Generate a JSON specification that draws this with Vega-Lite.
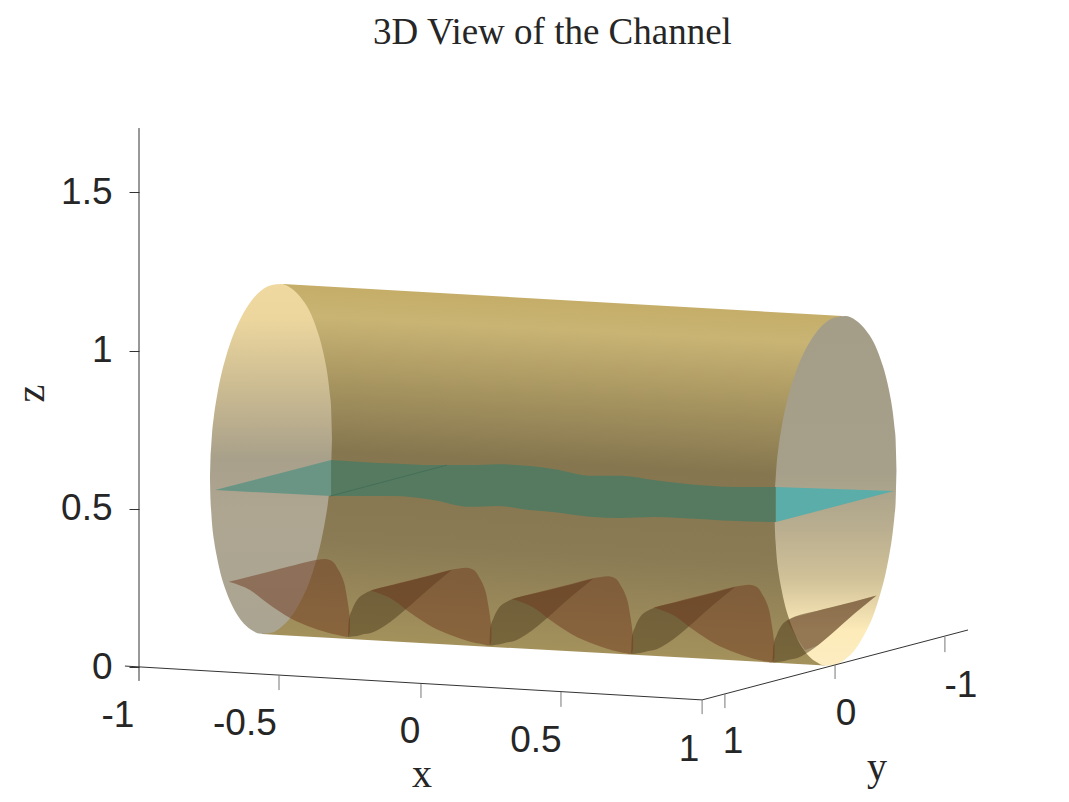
{
"$schema":"https://vega.github.io/schema/vega-lite/v6.json",
"width":1069,"height":802,
"autosize":"none",
"padding":0,
"background":"white",
"config":{"view":{"stroke":null}},
"title":{"text":"3D View of the Channel","font":"Liberation Serif","fontSize":37,"fontWeight":"normal","color":"#262626","anchor":"middle","frame":"group","offset":0,"dx":18,"dy":81,"baseline":"alphabetic"},
"datasets":{
"body":[{"u":-0.563,"top":0.104,"low":0.104},{"u":-0.489,"top":1.21,"low":0.1},{"u":1.435,"top":1.112,"low":0.005},{"u":1.496,"top":1.109,"low":1.109}],
"leftDisc":[{"u":-0.748,"top":0.594,"low":0.594},{"u":-0.746,"top":0.665,"low":0.524},{"u":-0.744,"top":0.694,"low":0.496},{"u":-0.741,"top":0.735,"low":0.456},{"u":-0.734,"top":0.793,"low":0.402},{"u":-0.723,"top":0.857,"low":0.346},{"u":-0.709,"top":0.92,"low":0.29},{"u":-0.691,"top":0.981,"low":0.24},{"u":-0.666,"top":1.048,"low":0.188},{"u":-0.638,"top":1.104,"low":0.148},{"u":-0.602,"top":1.156,"low":0.118},{"u":-0.567,"top":1.189,"low":0.105},{"u":-0.531,"top":1.206,"low":0.108},{"u":-0.496,"top":1.21,"low":0.126},{"u":-0.46,"top":1.197,"low":0.159},{"u":-0.425,"top":1.167,"low":0.21},{"u":-0.396,"top":1.127,"low":0.267},{"u":-0.372,"top":1.075,"low":0.333},{"u":-0.354,"top":1.024,"low":0.395},{"u":-0.34,"top":0.969,"low":0.458},{"u":-0.329,"top":0.912,"low":0.521},{"u":-0.322,"top":0.858,"low":0.579},{"u":-0.318,"top":0.819,"low":0.621},{"u":-0.317,"top":0.79,"low":0.65},{"u":-0.315,"top":0.721,"low":0.721}],
"rightDisc":[{"u":1.256,"top":0.493,"low":0.493},{"u":1.258,"top":0.564,"low":0.423},{"u":1.26,"top":0.593,"low":0.395},{"u":1.263,"top":0.634,"low":0.355},{"u":1.27,"top":0.692,"low":0.301},{"u":1.281,"top":0.756,"low":0.245},{"u":1.295,"top":0.819,"low":0.189},{"u":1.313,"top":0.88,"low":0.139},{"u":1.338,"top":0.947,"low":0.087},{"u":1.366,"top":1.003,"low":0.047},{"u":1.402,"top":1.055,"low":0.017},{"u":1.437,"top":1.088,"low":0.004},{"u":1.473,"top":1.105,"low":0.007},{"u":1.508,"top":1.109,"low":0.025},{"u":1.544,"top":1.096,"low":0.058},{"u":1.579,"top":1.066,"low":0.109},{"u":1.608,"top":1.026,"low":0.166},{"u":1.632,"top":0.974,"low":0.232},{"u":1.65,"top":0.923,"low":0.294},{"u":1.664,"top":0.868,"low":0.357},{"u":1.675,"top":0.811,"low":0.42},{"u":1.682,"top":0.757,"low":0.478},{"u":1.686,"top":0.718,"low":0.52},{"u":1.687,"top":0.689,"low":0.549},{"u":1.689,"top":0.62,"low":0.62}],
"sheet":[
{"part":"left","u":-0.73,"top":0.559,"low":0.559},{"part":"left","u":-0.318,"top":0.654,"low":0.54},
{"part":"mid","u":-0.318,"top":0.654,"low":0.54},{"part":"mid","u":-0.155,"top":0.645,"low":0.54},{"part":"mid","u":-0.098,"top":0.643,"low":0.54},{"part":"mid","u":0.044,"top":0.638,"low":0.528},{"part":"mid","u":0.175,"top":0.638,"low":0.506},{"part":"mid","u":0.271,"top":0.641,"low":0.509},{"part":"mid","u":0.388,"top":0.635,"low":0.496},{"part":"mid","u":0.47,"top":0.626,"low":0.49},{"part":"mid","u":0.612,"top":0.604,"low":0.474},{"part":"mid","u":0.708,"top":0.604,"low":0.471},{"part":"mid","u":0.825,"top":0.591,"low":0.474},{"part":"mid","u":0.921,"top":0.581,"low":0.471},{"part":"mid","u":1.123,"top":0.569,"low":0.461},{"part":"mid","u":1.261,"top":0.569,"low":0.458},
{"part":"right","u":1.261,"top":0.569,"low":0.458},{"part":"right","u":1.68,"top":0.556,"low":0.556}],
"lobes":[
{"k":0,"u":-0.258,"top":0.095,"low":0.095},{"k":0,"u":-0.255,"top":0.149,"low":0.095},{"k":0,"u":-0.244,"top":0.18,"low":0.096},{"k":0,"u":-0.226,"top":0.212,"low":0.098},{"k":0,"u":-0.201,"top":0.231,"low":0.104},{"k":0,"u":-0.18,"top":0.24,"low":0.107},{"k":0,"u":-0.098,"top":0.259,"low":0.149},{"k":0,"u":-0.052,"top":0.269,"low":0.183},{"k":0,"u":0.033,"top":0.288,"low":0.25},{"k":0,"u":0.111,"top":0.307,"low":0.307},
{"k":1,"u":0.244,"top":0.068,"low":0.068},{"k":1,"u":0.247,"top":0.122,"low":0.068},{"k":1,"u":0.258,"top":0.153,"low":0.069},{"k":1,"u":0.276,"top":0.185,"low":0.071},{"k":1,"u":0.301,"top":0.204,"low":0.077},{"k":1,"u":0.322,"top":0.213,"low":0.08},{"k":1,"u":0.404,"top":0.232,"low":0.122},{"k":1,"u":0.45,"top":0.242,"low":0.156},{"k":1,"u":0.535,"top":0.261,"low":0.223},{"k":1,"u":0.613,"top":0.28,"low":0.28},
{"k":2,"u":0.747,"top":0.041,"low":0.041},{"k":2,"u":0.75,"top":0.095,"low":0.041},{"k":2,"u":0.761,"top":0.126,"low":0.042},{"k":2,"u":0.779,"top":0.158,"low":0.044},{"k":2,"u":0.804,"top":0.177,"low":0.05},{"k":2,"u":0.825,"top":0.186,"low":0.053},{"k":2,"u":0.907,"top":0.205,"low":0.095},{"k":2,"u":0.953,"top":0.215,"low":0.129},{"k":2,"u":1.038,"top":0.234,"low":0.196},{"k":2,"u":1.116,"top":0.253,"low":0.253},
{"k":3,"u":1.249,"top":0.014,"low":0.014},{"k":3,"u":1.252,"top":0.068,"low":0.014},{"k":3,"u":1.263,"top":0.099,"low":0.015},{"k":3,"u":1.281,"top":0.131,"low":0.017},{"k":3,"u":1.306,"top":0.15,"low":0.023},{"k":3,"u":1.327,"top":0.159,"low":0.026},{"k":3,"u":1.409,"top":0.178,"low":0.068},{"k":3,"u":1.455,"top":0.188,"low":0.102},{"k":3,"u":1.54,"top":0.207,"low":0.169},{"k":3,"u":1.618,"top":0.226,"low":0.226}],
"tint":[{"u":1.3,"top":0.145,"low":0.145},{"u":1.329,"top":0.159,"low":0.101},{"u":1.364,"top":0.166,"low":0.054},{"u":1.409,"top":0.178,"low":0.068},{"u":1.455,"top":0.188,"low":0.102},{"u":1.54,"top":0.207,"low":0.169},{"u":1.618,"top":0.226,"low":0.226}],
"hills":[
{"k":0,"u":-0.681,"top":0.269,"low":0.269},{"k":0,"u":-0.606,"top":0.286,"low":0.243},{"k":0,"u":-0.535,"top":0.302,"low":0.196},{"k":0,"u":-0.464,"top":0.318,"low":0.155},{"k":0,"u":-0.389,"top":0.335,"low":0.126},{"k":0,"u":-0.34,"top":0.341,"low":0.111},{"k":0,"u":-0.311,"top":0.332,"low":0.104},{"k":0,"u":-0.294,"top":0.31,"low":0.101},{"k":0,"u":-0.279,"top":0.284,"low":0.098},{"k":0,"u":-0.269,"top":0.256,"low":0.096},{"k":0,"u":-0.262,"top":0.221,"low":0.095},{"k":0,"u":-0.255,"top":0.18,"low":0.1},{"k":0,"u":-0.251,"top":0.149,"low":0.111},
{"k":1,"u":-0.179,"top":0.242,"low":0.242},{"k":1,"u":-0.104,"top":0.259,"low":0.216},{"k":1,"u":-0.033,"top":0.275,"low":0.169},{"k":1,"u":0.038,"top":0.291,"low":0.128},{"k":1,"u":0.113,"top":0.308,"low":0.099},{"k":1,"u":0.162,"top":0.314,"low":0.084},{"k":1,"u":0.191,"top":0.305,"low":0.077},{"k":1,"u":0.208,"top":0.283,"low":0.074},{"k":1,"u":0.223,"top":0.257,"low":0.071},{"k":1,"u":0.233,"top":0.229,"low":0.069},{"k":1,"u":0.24,"top":0.194,"low":0.068},{"k":1,"u":0.247,"top":0.153,"low":0.073},{"k":1,"u":0.251,"top":0.122,"low":0.084},
{"k":2,"u":0.324,"top":0.215,"low":0.215},{"k":2,"u":0.399,"top":0.232,"low":0.189},{"k":2,"u":0.47,"top":0.248,"low":0.142},{"k":2,"u":0.541,"top":0.264,"low":0.101},{"k":2,"u":0.616,"top":0.281,"low":0.072},{"k":2,"u":0.665,"top":0.287,"low":0.057},{"k":2,"u":0.694,"top":0.278,"low":0.05},{"k":2,"u":0.711,"top":0.256,"low":0.047},{"k":2,"u":0.726,"top":0.23,"low":0.044},{"k":2,"u":0.736,"top":0.202,"low":0.042},{"k":2,"u":0.743,"top":0.167,"low":0.041},{"k":2,"u":0.75,"top":0.126,"low":0.046},{"k":2,"u":0.754,"top":0.095,"low":0.057},
{"k":3,"u":0.826,"top":0.188,"low":0.188},{"k":3,"u":0.901,"top":0.205,"low":0.162},{"k":3,"u":0.972,"top":0.221,"low":0.115},{"k":3,"u":1.043,"top":0.237,"low":0.074},{"k":3,"u":1.118,"top":0.254,"low":0.045},{"k":3,"u":1.167,"top":0.26,"low":0.03},{"k":3,"u":1.196,"top":0.251,"low":0.023},{"k":3,"u":1.213,"top":0.229,"low":0.02},{"k":3,"u":1.228,"top":0.203,"low":0.017},{"k":3,"u":1.238,"top":0.175,"low":0.015},{"k":3,"u":1.245,"top":0.14,"low":0.014},{"k":3,"u":1.252,"top":0.099,"low":0.019},{"k":3,"u":1.256,"top":0.068,"low":0.03}],
"seam":[{"u":-0.322,"z":0.54,"u2":0.093,"z2":0.638}],
"axisLines":[
{"u":-1.05,"z":0.003,"u2":0.999,"z2":-0.104},
{"u":0.999,"z":-0.104,"u2":1.943,"z2":0.117},
{"u":-1,"z":1.703,"u2":-1,"z2":-0.044}],
"axisTicks":[
{"u":-0.503,"z":-0.025,"u2":-0.503,"z2":-0.073},
{"u":0.001,"z":-0.054,"u2":0.001,"z2":-0.098},
{"u":0.498,"z":-0.079,"u2":0.498,"z2":-0.126},
{"u":0.999,"z":-0.104,"u2":0.999,"z2":-0.149},
{"u":1.08,"z":-0.085,"u2":1.08,"z2":-0.13},
{"u":1.471,"z":0.006,"u2":1.471,"z2":-0.038},
{"u":1.861,"z":0.095,"u2":1.861,"z2":0.047}],
"tickLabels":[
{"label":"-1","u":-1.075,"z":-0.155},{"label":"-0.5","u":-0.624,"z":-0.18},{"label":"0","u":-0.038,"z":-0.205},{"label":"0.5","u":0.409,"z":-0.234},{"label":"1","u":0.953,"z":-0.262},
{"label":"1","u":1.109,"z":-0.237},{"label":"0","u":1.51,"z":-0.149},{"label":"-1","u":1.918,"z":-0.06}],
"axisNames":[{"label":"x","u":0.005,"z":-0.341},{"label":"y","u":1.62,"z":-0.319}]
},
"encoding":{
"x":{"field":"u","type":"quantitative","scale":{"domain":[-1.49345,2.3015],"nice":false,"zero":false},"axis":null},
"y":{"field":"top","type":"quantitative","scale":{"domain":[-0.4266,2.10772],"nice":false,"zero":false},
"axis":{"title":"z","titleFont":"Liberation Serif","titleFontSize":40,"titleFontWeight":"normal","titleColor":"#262626","titleX":-108,"titleY":393,"titleAngle":-90,"titleAlign":"center","titleBaseline":"middle","values":[0,0.5,1,1.5],"labelExpr":"datum.value","labelFont":"Liberation Sans","labelFontSize":37,"labelColor":"#262626","tickColor":"#333333","tickSize":10,"labelPadding":17,"domain":false,"grid":false,"offset":-139}}
},
"layer":[
{"data":{"name":"body"},"mark":{"type":"area","color":{"gradient":"linear","x1":0.54,"y1":0,"x2":0.46,"y2":1,"stops":[{"offset":0,"color":"#c3aa62"},{"offset":0.12,"color":"#c9b474"},{"offset":0.3,"color":"#a5935f"},{"offset":0.47,"color":"#85764f"},{"offset":0.7,"color":"#8a7b55"},{"offset":1,"color":"#a8955d"}]}},"encoding":{"y2":{"field":"low"}}},
{"data":{"name":"leftDisc"},"mark":{"type":"area","interpolate":"monotone","color":{"gradient":"linear","x1":0,"y1":0,"x2":0,"y2":1,"stops":[{"offset":0,"color":"#efd9a0"},{"offset":0.1,"color":"#ecd69e"},{"offset":0.3,"color":"#cbbb92"},{"offset":0.5,"color":"#a8a08a"},{"offset":0.65,"color":"#aea691"},{"offset":1,"color":"#aaa492"}]}},"encoding":{"y2":{"field":"low"}}},
{"data":{"name":"rightDisc"},"mark":{"type":"area","interpolate":"monotone","color":{"gradient":"linear","x1":0,"y1":0,"x2":0,"y2":1,"stops":[{"offset":0,"color":"#a49d88"},{"offset":0.45,"color":"#a6a08a"},{"offset":0.6,"color":"#b8ad8f"},{"offset":0.75,"color":"#d0c198"},{"offset":0.9,"color":"#fdebb9"},{"offset":1,"color":"#fcecc0"}]}},"encoding":{"y2":{"field":"low"}}},
{"data":{"name":"sheet"},"mark":{"type":"area","interpolate":"monotone"},"encoding":{"y2":{"field":"low"},"color":{"field":"part","type":"nominal","scale":{"domain":["left","mid","right"],"range":["#6a9585","#557a60","#5aada8"]},"legend":null}}},
{"data":{"name":"lobes"},"mark":{"type":"area","interpolate":"monotone","color":"#4c3a1c","opacity":0.5},"encoding":{"y2":{"field":"low"},"detail":{"field":"k"}}},
{"data":{"name":"tint"},"mark":{"type":"area","color":"#70391f","opacity":0.3},"encoding":{"y2":{"field":"low"}}},
{"data":{"name":"hills"},"mark":{"type":"area","interpolate":"monotone","color":"#70391f","opacity":0.5},"encoding":{"y2":{"field":"low"},"detail":{"field":"k"}}},
{"data":{"name":"seam"},"mark":{"type":"rule","color":"#3f6a55","strokeWidth":0.7},"encoding":{"y":{"field":"z","type":"quantitative"},"x2":{"field":"u2"},"y2":{"field":"z2"}}},
{"data":{"name":"axisLines"},"mark":{"type":"rule","color":"#333333","strokeWidth":1},"encoding":{"y":{"field":"z","type":"quantitative"},"x2":{"field":"u2"},"y2":{"field":"z2"}}},
{"data":{"name":"axisTicks"},"mark":{"type":"rule","color":"#777777","strokeWidth":1},"encoding":{"y":{"field":"z","type":"quantitative"},"x2":{"field":"u2"},"y2":{"field":"z2"}}},
{"data":{"name":"tickLabels"},"mark":{"type":"text","font":"Liberation Sans","fontSize":37,"color":"#262626","align":"center","baseline":"middle"},"encoding":{"y":{"field":"z","type":"quantitative"},"text":{"field":"label"}}},
{"data":{"name":"axisNames"},"mark":{"type":"text","font":"Liberation Serif","fontSize":40,"color":"#262626","align":"center","baseline":"middle"},"encoding":{"y":{"field":"z","type":"quantitative"},"text":{"field":"label"}}}
]
}
